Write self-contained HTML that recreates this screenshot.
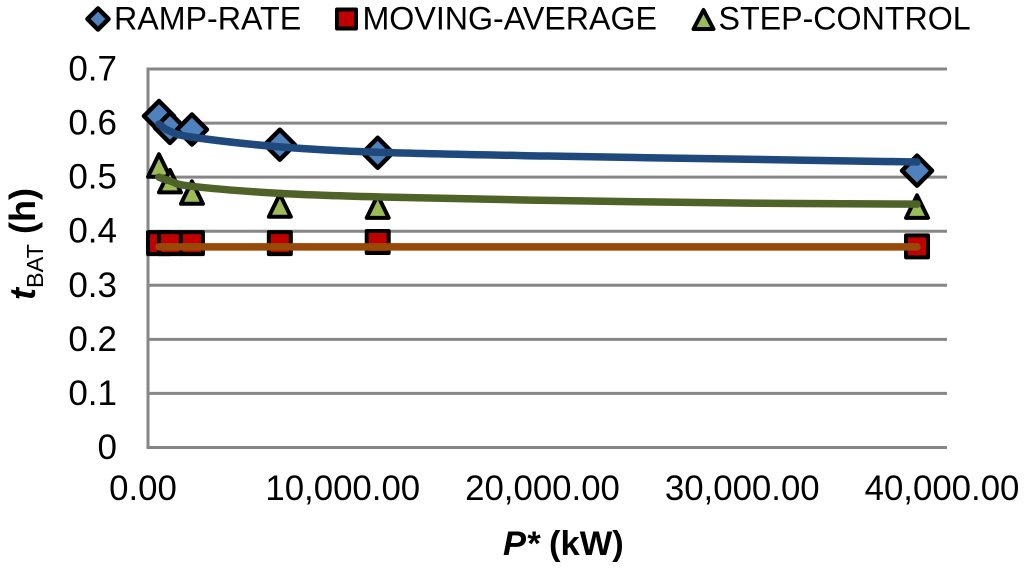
<!DOCTYPE html>
<html>
<head>
<meta charset="utf-8">
<title>tBAT vs P*</title>
<style>
html,body{margin:0;padding:0;background:#fff;width:1024px;height:572px;overflow:hidden}
svg{display:block}
text{font-family:"Liberation Sans",Arial,sans-serif;fill:#000}
</style>
</head>
<body>
<svg id="chart" width="1024" height="572" viewBox="0 0 1024 572" xmlns="http://www.w3.org/2000/svg">
  <g id="grid"></g>
  <g id="yticks"></g>
  <g id="xticks"></g>
  <g id="marks"></g>
  <g id="trends"></g>

  <text transform="translate(35,300) rotate(-90)" font-size="36" font-weight="bold"><tspan font-style="italic">t</tspan><tspan font-size="23.5" font-weight="normal" dy="8">BAT</tspan><tspan dy="-8"> (h)</tspan></text>
  <text x="503" y="555" font-size="34.5" font-weight="bold"><tspan font-style="italic">P</tspan><tspan font-style="italic">*</tspan> (kW)</text>

  <g>
    <g>
      <path d="M98 8.500 L108.500 19 L98 29.500 L87.500 19 Z" fill="#4f81bd" stroke="#000" stroke-width="4.500" stroke-linejoin="round"/>
      <text x="114" y="29.500" font-size="32.200">RAMP-RATE</text>
    </g>
    <g>
      <rect x="337" y="9.500" width="19" height="19" fill="#c00000" stroke="#000" stroke-width="4" stroke-linejoin="round"/>
      <text x="362.500" y="29.500" font-size="32.200">MOVING-AVERAGE</text>
    </g>
    <g>
      <path d="M703.500 10 L713.500 29 L693.500 29 Z" fill="#9bbb59" stroke="#000" stroke-width="4" stroke-linejoin="round"/>
      <text x="718.500" y="29.500" font-size="32.200">STEP-CONTROL</text>
    </g>
  </g>
</svg>
<script>
// Chart data
const powerKw = [550, 1100, 2200, 6600, 11500, 38500];
const rampRate = [0.613, 0.591, 0.588, 0.560, 0.545, 0.512];
const movingAverage = [0.378, 0.378, 0.378, 0.378, 0.380, 0.372];
const stepControl = [0.522, 0.493, 0.472, 0.448, 0.446, 0.446];

const trendPowerKw = [550, 1100, 2200, 6600, 11500, 20000, 30000, 38500];
const rampRateTrend = [0.598, 0.585, 0.574, 0.556, 0.546, 0.539, 0.533, 0.528];
const movingAverageTrend = [0.371, 0.371, 0.371, 0.371, 0.371, 0.371, 0.371, 0.371];
const stepControlTrend = [0.500, 0.493, 0.483, 0.470, 0.4635, 0.457, 0.452, 0.450];

const yTicks = [0, 0.1, 0.2, 0.3, 0.4, 0.5, 0.6, 0.7];
const yTickLabels = ['0', '0.1', '0.2', '0.3', '0.4', '0.5', '0.6', '0.7'];
const xTicks = [0, 10000, 20000, 30000, 40000];
const xTickLabels = ['0.00', '10,000.00', '20,000.00', '30,000.00', '40,000.00'];

const NS = 'http://www.w3.org/2000/svg';
const plotLeft = 148, plotRight = 947, plotBottom = 447.5, plotTop = 69;
const xMax = 40000, yMax = 0.7;
function xScale(v) { return plotLeft + v / xMax * (plotRight - plotLeft); }
function yScale(v) { return plotBottom - v / yMax * (plotBottom - plotTop); }
function make(tag, parent) {
  const el = document.createElementNS(NS, tag);
  parent.appendChild(el);
  return el;
}

const grid = document.getElementById('grid');
const yTickGroup = document.getElementById('yticks');
const xTickGroup = document.getElementById('xticks');
const marks = document.getElementById('marks');
const trends = document.getElementById('trends');

yTicks.forEach(function (t, i) {
  const line = make('line', grid);
  
  
  line.setAttribute('x1', plotLeft);
  line.setAttribute('x2', plotRight);
  line.setAttribute('y1', yScale(t));
  line.setAttribute('y2', yScale(t));
  line.setAttribute('stroke', '#868686');
  line.setAttribute('stroke-width', '3');
  const label = make('text', yTickGroup);
  
  
  label.setAttribute('x', 117);
  label.setAttribute('y', yScale(t) + 11.5);
  label.setAttribute('text-anchor', 'end');
  label.setAttribute('font-size', '35');
  label.textContent = yTickLabels[i];
});

const yAxisLine = make('line', grid);


yAxisLine.setAttribute('x1', plotLeft);
yAxisLine.setAttribute('x2', plotLeft);
yAxisLine.setAttribute('y1', yScale(yMax) - 1.5);
yAxisLine.setAttribute('y2', yScale(0) + 1.5);
yAxisLine.setAttribute('stroke', '#868686');
yAxisLine.setAttribute('stroke-width', '3');

xTicks.forEach(function (t, i) {
  const label = make('text', xTickGroup);
  
  
  label.setAttribute('x', xScale(t) - 5);
  label.setAttribute('y', 500);
  label.setAttribute('text-anchor', 'middle');
  label.setAttribute('font-size', '34.8');
  label.textContent = xTickLabels[i];
});

function addDiamond(cx, cy) {
  const el = make('path', marks);
  
  
  el.setAttribute('d', 'M' + cx + ' ' + (cy - 15) + ' L' + (cx + 15) + ' ' + cy + ' L' + cx + ' ' + (cy + 15) + ' L' + (cx - 15) + ' ' + cy + ' Z');
  el.setAttribute('fill', '#4f81bd');
  el.setAttribute('stroke', '#000');
  el.setAttribute('stroke-width', '4.5');
  el.setAttribute('stroke-linejoin', 'round');
}
function addSquare(cx, cy) {
  const el = make('rect', marks);
  
  
  el.setAttribute('x', cx - 11);
  el.setAttribute('y', cy - 11);
  el.setAttribute('width', 22);
  el.setAttribute('height', 22);
  el.setAttribute('fill', '#c00000');
  el.setAttribute('stroke', '#000');
  el.setAttribute('stroke-width', '4');
  el.setAttribute('stroke-linejoin', 'round');
}
function addTriangle(cx, cy) {
  const el = make('path', marks);
  
  
  el.setAttribute('d', 'M' + cx + ' ' + (cy - 11) + ' L' + (cx + 11) + ' ' + (cy + 11.5) + ' L' + (cx - 11) + ' ' + (cy + 11.5) + ' Z');
  el.setAttribute('fill', '#9bbb59');
  el.setAttribute('stroke', '#000');
  el.setAttribute('stroke-width', '4');
  el.setAttribute('stroke-linejoin', 'round');
}
powerKw.forEach(function (p, i) { addDiamond(xScale(p), yScale(rampRate[i])); });
powerKw.forEach(function (p, i) { addSquare(xScale(p), yScale(movingAverage[i])); });
powerKw.forEach(function (p, i) { addTriangle(xScale(p), yScale(stepControl[i])); });

function smoothPath(values) {
  const pts = trendPowerKw.map(function (p, i) { return [xScale(p), yScale(values[i])]; });
  let d = 'M' + pts[0][0] + ' ' + pts[0][1];
  for (let i = 0; i < pts.length - 1; i++) {
    const a = pts[Math.max(i - 1, 0)], b = pts[i], c = pts[i + 1], e = pts[Math.min(i + 2, pts.length - 1)];
    d += ' C' + (b[0] + (c[0] - a[0]) / 6) + ' ' + (b[1] + (c[1] - a[1]) / 6) + ' ' +
         (c[0] - (e[0] - b[0]) / 6) + ' ' + (c[1] - (e[1] - b[1]) / 6) + ' ' + c[0] + ' ' + c[1];
  }
  return d;
}
function addTrend(values, color, name) {
  const el = make('path', trends);
  
  
  el.setAttribute('d', smoothPath(values));
  el.setAttribute('fill', 'none');
  el.setAttribute('stroke', color);
  el.setAttribute('stroke-width', '7.5');
  el.setAttribute('stroke-linecap', 'round');
}
addTrend(rampRateTrend, '#1f497d', 'ramp-rate-trendline');
addTrend(movingAverageTrend, '#984807', 'moving-average-trendline');
addTrend(stepControlTrend, '#4f6228', 'step-control-trendline');
</script>
</body>
</html>
